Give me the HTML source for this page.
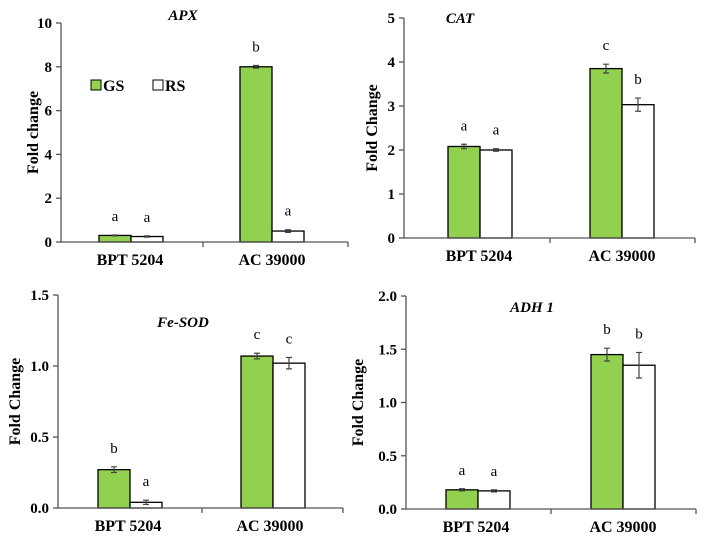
<!DOCTYPE html>
<html><head><meta charset="utf-8"><style>
body{margin:0;background:#fff}
svg{display:block;font-family:"Liberation Serif",serif}
</style></head><body>
<svg id="c" width="708" height="545"></svg>
<script>
const categories=["BPT 5204","AC 39000"];
const apxGS=[0.3,8.0], apxRS=[0.25,0.5], apxGSErr=[0.02,0.06], apxRSErr=[0.03,0.06], apxGSL=["a","b"], apxRSL=["a","a"];
const catGS=[2.08,3.85], catRS=[2.0,3.03], catGSErr=[0.05,0.1], catRSErr=[0.03,0.15], catGSL=["a","c"], catRSL=["a","b"];
const sodGS=[0.27,1.07], sodRS=[0.04,1.02], sodGSErr=[0.02,0.02], sodRSErr=[0.015,0.04], sodGSL=["b","c"], sodRSL=["a","c"];
const adhGS=[0.18,1.45], adhRS=[0.17,1.35], adhGSErr=[0.01,0.06], adhRSErr=[0.01,0.12], adhGSL=["a","b"], adhRSL=["a","b"];
const apxTicks=["0","2","4","6","8","10"], catTicks=["0","1","2","3","4","5"];
const sodTicks=["0.0","0.5","1.0","1.5"], adhTicks=["0.0","0.5","1.0","1.5","2.0"];
const NS="http://www.w3.org/2000/svg", svg=document.getElementById('c');
function mk(t,a,p){const e=document.createElementNS(NS,t);for(const k in a)e.setAttribute(k,a[k]);(p||svg).appendChild(e);return e;}
function panel(o){
  const g=mk('g',{});
  
  
  const max=+o.ticks[o.ticks.length-1];
  const y=v=>o.y0-(v/max)*(o.y0-o.yTop);
  const bw=32;
  const cx=i=>o.cx[i];
  [[o.gs,o.gsE,o.gsL,'#92d050',-1],[o.rs,o.rsE,o.rsL,'#fff',0]].forEach(([vals,errs,labs,fill,off],s)=>{
    vals.forEach((v,i)=>{
      const x=cx(i)+off*bw;
      const r=mk('rect',{x:x,y:y(v),width:bw,height:o.y0-y(v),fill:fill,stroke:'#000','stroke-width':1.3},g);
      
      
      const ex=x+bw/2, t=y(v+errs[i]), b=y(v-errs[i]);
      mk('path',{d:`M${ex} ${t}V${b}M${ex-3} ${t}H${ex+3}M${ex-3} ${b}H${ex+3}`,stroke:'#444','stroke-width':1.2,fill:'none'},g);
      const l=mk('text',{x:ex,y:t-14,'text-anchor':'middle','font-size':15},g);
      l.textContent=labs[i];
      
      
    });
  });
  mk('path',{d:`M${o.x0} ${o.yTop}V${o.y0}H${o.xEnd}M${o.xMid} ${o.y0}V${o.y0+5}M${o.xEnd} ${o.y0}V${o.y0+5}`,stroke:'#555','stroke-width':1.3,fill:'none'},g);
  o.ticks.forEach(t=>{
    const yy=y(+t);
    mk('path',{d:`M${o.x0-5} ${yy}H${o.x0}`,stroke:'#555','stroke-width':1.3},g);
    const tx=mk('text',{x:o.x0-9,y:yy+5,'text-anchor':'end','font-size':15,'font-weight':'bold'},g);
    tx.textContent=t;
    
    
  });
  categories.forEach((c,i)=>{
    const tx=mk('text',{x:o.lx[i],y:o.y0+23,'text-anchor':'middle','font-size':16,'font-weight':'bold'},g);
    tx.textContent=c;
    
    
  });
  const ti=mk('text',{x:o.tx,y:o.ty,'text-anchor':'middle','font-size':15,'font-weight':'bold','font-style':'italic'},g);
  ti.textContent=o.title;
  
  
  const ym=(o.yTop+o.y0)/2;
  const yl=mk('text',{x:o.ylx,y:ym,'text-anchor':'middle','font-size':16,'font-weight':'bold',transform:`rotate(-90 ${o.ylx} ${ym})`},g);
  yl.textContent=o.ylab;
  
  
}
panel({name:'apx-panel',title:'APX',tx:183,ty:20,ylab:'Fold change',ylx:38,x0:61,xEnd:348,xMid:203,yTop:23,y0:242,cx:[131,272],lx:[130,272],ticks:apxTicks,gs:apxGS,rs:apxRS,gsE:apxGSErr,rsE:apxRSErr,gsL:apxGSL,rsL:apxRSL});
panel({name:'cat-panel',title:'CAT',tx:460,ty:23,ylab:'Fold Change',ylx:377,x0:404,xEnd:695,xMid:550,yTop:18,y0:238,cx:[480,622],lx:[479,622],ticks:catTicks,gs:catGS,rs:catRS,gsE:catGSErr,rsE:catRSErr,gsL:catGSL,rsL:catRSL});
panel({name:'fe-sod-panel',title:'Fe-SOD',tx:183,ty:327,ylab:'Fold Change',ylx:20,x0:58,xEnd:343,xMid:202,yTop:295,y0:508,cx:[130,273],lx:[128,270],ticks:sodTicks,gs:sodGS,rs:sodRS,gsE:sodGSErr,rsE:sodRSErr,gsL:sodGSL,rsL:sodRSL});
panel({name:'adh1-panel',title:'ADH 1',tx:532,ty:312,ylab:'Fold Change',ylx:363,x0:406,xEnd:696,xMid:551,yTop:296,y0:509,cx:[478,623],lx:[476,623],ticks:adhTicks,gs:adhGS,rs:adhRS,gsE:adhGSErr,rsE:adhRSErr,gsL:adhGSL,rsL:adhRSL});
const lg=mk('g',{});


mk('rect',{x:91,y:80,width:10,height:10,fill:'#92d050',stroke:'#000'},lg);
mk('rect',{x:153,y:80,width:10,height:10,fill:'#fff',stroke:'#000'},lg);
const l1=mk('text',{x:103,y:91,'font-size':16,'font-weight':'bold'},lg);l1.textContent='GS';


const l2=mk('text',{x:165,y:91,'font-size':16,'font-weight':'bold'},lg);l2.textContent='RS';


</script>
</body></html>
